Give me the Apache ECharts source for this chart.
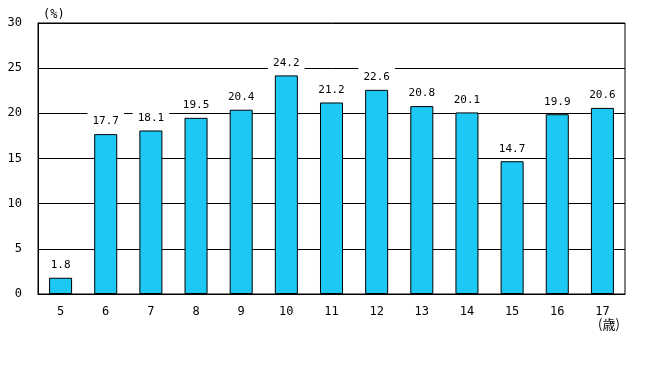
<!DOCTYPE html>
<html><head><meta charset="utf-8">
<script src="https://cdn.jsdelivr.net/npm/echarts@6/dist/echarts.min.js"></script>
<style>html,body{margin:0;padding:0;background:#fff}#c{width:650px;height:373px}</style>
</head><body><div id="c"></div>
<script>
const categories = ['5','6','7','8','9','10','11','12','13','14','15','16','17'];
const values = [1.8,17.7,18.1,19.5,20.4,24.2,21.2,22.6,20.8,20.1,14.7,19.9,20.6];
const yTicks = [0,5,10,15,20,25,30];
const font = '"DejaVu Sans Mono", "Liberation Mono", monospace';
const chart = echarts.init(document.getElementById('c'));
chart.setOption({
  animation: false,
  backgroundColor: '#fff',
  grid: {left: 38, right: 25, top: 23, bottom: 79, show: true, borderColor: '#000', borderWidth: 1, containLabel: false},
  xAxis: {
    type: 'category', data: categories,
    axisLine: {lineStyle: {color: '#000'}},
    axisTick: {show: false},
    axisLabel: {color: '#000', fontFamily: font, fontSize: 12, margin: 12}
  },
  yAxis: {
    type: 'value', min: yTicks[0], max: yTicks[yTicks.length-1], interval: 5,
    axisLine: {show: true, lineStyle: {color: '#000'}},
    axisTick: {show: false},
    axisLabel: {color: '#000', fontFamily: font, fontSize: 12, margin: 16},
    splitLine: {lineStyle: {color: '#000', width: 1}}
  },
  graphic: [
    {type: 'text', left: 43, top: 9, style: {text: '(%)', font: '12px ' + font, fill: '#000'}},
    {type: 'text', left: 598, top: 318, style: {text: '(歳)', font: '13px "Noto Sans CJK JP", sans-serif', fill: '#000'}}
  ],
  series: [{
    type: 'bar', data: values, barWidth: '51%',
    itemStyle: {color: '#1EC8F4', borderColor: '#000', borderWidth: 1},
    label: {show: true, position: 'top', distance: 5, color: '#000', fontFamily: font, fontSize: 11,
      backgroundColor: '#fff', padding: [7, 5, 2, 5], formatter: p => p.value.toFixed(1)}
  }]
});
</script></body></html>
